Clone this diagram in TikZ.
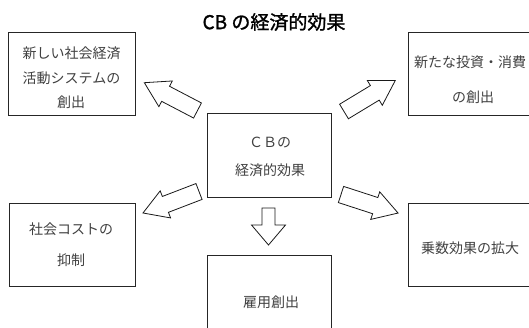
\documentclass[tikz,border=0pt]{standalone}
\usepackage{fontspec}
\newfontfamily\jp{Noto Sans CJK JP}
\newfontfamily\jpm[FakeBold=1.3]{Noto Sans CJK JP}
\begin{document}
\begin{tikzpicture}[x=1pt,y=1pt,
  box/.style={draw=black!85, line width=0.9pt, inner sep=0pt},
  txt/.style={inner sep=0pt, text=black!75, font=\jp\fontsize{14}{14}\selectfont},
  ttl/.style={inner sep=0pt, text=black, font=\jpm\fontsize{19}{19}\selectfont},
  blk/.style={draw=black!90, line width=0.8pt, fill=white, line join=miter}]
\useasboundingbox (0,0) rectangle (529,328);
\clip (0,0) rectangle (529,328);
% title
\node[ttl] (title) at (274,306) {CB の経済的効果};
% boxes
\node[box, minimum width=127pt, minimum height=83pt] (b1) at (71.5,254.5) {};
\node[box, minimum width=130pt, minimum height=83pt] (b2) at (473,254.5) {};
\node[box, minimum width=124pt, minimum height=84pt] (c) at (269,173) {};
\node[box, minimum width=126pt, minimum height=83pt] (b4) at (72,83.5) {};
\node[box, minimum width=130pt, minimum height=83pt] (b5) at (473,83.5) {};
\node[box, minimum width=124pt, minimum height=85pt] (b6) at (269,30.5) {};
% texts
\node[txt] (t1a) at (71.5,275) {新しい社会経済};
\node[txt] (t1b) at (71.5,250) {活動システムの};
\node[txt] (t1c) at (71,226) {創出};
\node[txt] (t2a) at (470,266) {新たな投資・消費};
\node[txt] (t2b) at (473,231) {の創出};
\node[txt] (tca) at (270,186) {ＣＢの};
\node[txt] (tcb) at (270,158) {経済的効果};
\node[txt] (t4a) at (71,99) {社会コストの};
\node[txt] (t4b) at (71,68) {抑制};
\node[txt] (t5) at (470,80) {乗数効果の拡大};
\node[txt] (t6) at (271,26) {雇用創出};
% block arrows
\draw[blk, shift={(197.5,217.5)}, rotate=152.4]
  (0,-8.5) -- (36,-8.5) -- (36,-14.5) -- (60,0) -- (36,14.5) -- (36,8.5) -- (0,8.5) -- cycle;
\draw[blk, shift={(344,216.5)}, rotate=31.2]
  (0,-8.5) -- (36,-8.5) -- (36,-14.5) -- (60,0) -- (36,14.5) -- (36,8.5) -- (0,8.5) -- cycle;
\draw[blk, shift={(199,136.5)}, rotate=201]
  (0,-8.5) -- (36,-8.5) -- (36,-14.5) -- (60,0) -- (36,14.5) -- (36,8.5) -- (0,8.5) -- cycle;
\draw[blk, shift={(341,133.5)}, rotate=-18]
  (0,-8.5) -- (36,-8.5) -- (36,-14.5) -- (60,0) -- (36,14.5) -- (36,8.5) -- (0,8.5) -- cycle;
\draw[blk, shift={(268.5,120)}, rotate=-90]
  (0,-6.5) -- (17,-6.5) -- (17,-17) -- (37,0) -- (17,17) -- (17,6.5) -- (0,6.5) -- cycle;
\end{tikzpicture}
\end{document}
